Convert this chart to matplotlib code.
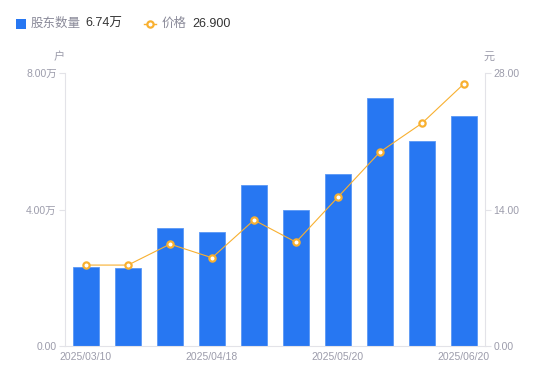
import matplotlib
matplotlib.use('Agg')
import matplotlib.pyplot as plt
from matplotlib.lines import Line2D

plt.rcParams['font.family'] = ['Liberation Sans', 'Noto Sans CJK SC']

# data
dates = ['2025/03/10', '2025/03/20', '2025/03/31', '2025/04/18', '2025/04/30',
         '2025/05/09', '2025/05/20', '2025/05/30', '2025/06/10', '2025/06/20']
holders = [2.32, 2.29, 3.46, 3.34, 4.72, 3.99, 5.04, 7.26, 6.01, 6.74]   # 万户
price = [8.30, 8.30, 10.45, 9.05, 12.92, 10.65, 15.28, 19.90, 22.85, 26.90]
shown_ticks = [0, 3, 6, 9]

blue = '#2777F2'
orange = '#F8B030'
gray = '#9c9cab'
axis_c = '#e3e3e8'

fig = plt.figure(figsize=(5.5, 3.81), dpi=100)
fig.patch.set_facecolor('white')
ax = fig.add_axes([65/550, 35/381, 420/550, 273/381])
ax2 = ax.twinx()

x = list(range(len(dates)))
ax.bar(x, holders, width=0.6, color=blue, edgecolor='#5a98f5', linewidth=0.6, zorder=2)
ax2.plot(x, price, color=orange, lw=0.8, marker='o', markersize=4.5,
         markerfacecolor='white', markeredgecolor=orange, markeredgewidth=1.6, zorder=3)

ax.set_xlim(-0.5, 9.5)
ax.set_ylim(0, 8)
ax2.set_ylim(0, 28)

ax.set_xticks([x[i] for i in shown_ticks])
ax.set_xticklabels([dates[i] for i in shown_ticks])
ax.set_yticks([0, 4, 8])
ax.set_yticklabels(['0.00', '4.00万', '8.00万'])
ax2.set_yticks([0, 14, 28])
ax2.set_yticklabels(['0.00', '14.00', '28.00'])

for a in (ax, ax2):
    for s in a.spines.values():
        s.set_visible(False)
ax.spines['left'].set_visible(True)
ax.spines['left'].set_color(axis_c)
ax.spines['bottom'].set_visible(True)
ax.spines['bottom'].set_color(axis_c)
ax2.spines['right'].set_visible(True)
ax2.spines['right'].set_color(axis_c)

ax.tick_params(axis='y', length=4, width=0.8, color=axis_c, labelsize=7.5, labelcolor=gray, pad=2)
ax.tick_params(axis='x', length=0, labelsize=7.5, labelcolor=gray, pad=4)
ax2.tick_params(axis='y', length=4, width=0.8, color=axis_c, labelsize=7.5, labelcolor=gray, pad=2)

# unit labels
fig.text(59/550, 1 - 57/381, '户', ha='center', va='center', fontsize=8, color=gray)
fig.text(489/550, 1 - 57/381, '元', ha='center', va='center', fontsize=8, color=gray)

# legend
ly = 1 - 24/381
fig.patches.append(plt.Rectangle((16/550, ly - 5/381), 10/550, 10/381, transform=fig.transFigure,
                                 facecolor=blue, edgecolor='none'))
fig.text(31/550, ly, '股东数量', ha='left', va='center', fontsize=9, color='#8a8a99')
fig.text(85/550, ly, '6.74万', ha='left', va='center', fontsize=9, color='#333333')
fig.lines.append(Line2D([144/550, 156/550], [ly, ly], transform=fig.transFigure,
                        color=orange, lw=1))
fig.lines.append(Line2D([150/550], [ly], transform=fig.transFigure, color=orange,
                        marker='o', markersize=4.5, markerfacecolor='white',
                        markeredgecolor=orange, markeredgewidth=1.6))
fig.text(162/550, ly, '价格', ha='left', va='center', fontsize=9, color='#8a8a99')
fig.text(192/550, ly, '26.900', ha='left', va='center', fontsize=9, color='#333333')

fig.savefig('out.png', dpi=100, facecolor='white')
